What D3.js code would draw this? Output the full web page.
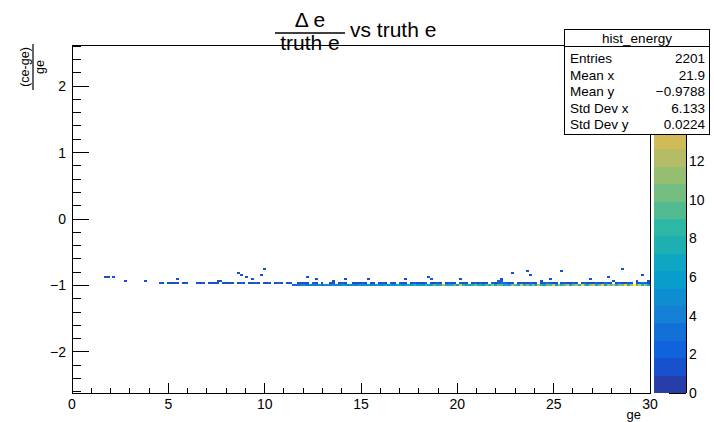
<!DOCTYPE html>
<html><head><meta charset="utf-8">
<script src="https://cdn.jsdelivr.net/npm/d3@7"></script>
<style>body{margin:0;background:#fff;} text{font-family:"Liberation Sans",Arial,Helvetica,sans-serif;}</style>
</head><body>
<svg id="c" width="714" height="422"></svg>
<script>
// ---- data ----
const xBinWidth = 0.15;
const yBinHeight = 0.03;
const xTickValues = [0,5,10,15,20,25,30];
const yTickValues = [-2,-1,0,1,2];
const zTickValues = [0,2,4,6,8,10,12];
const zMax = 18;
// main lower row (y = -0.99), starting at x = 11.4
const lowerRowY = -0.99, lowerRowX0 = 11.4;
const lowerRow = [2,3,3,4,
 4,3,5,4,4,5,3,4,5,4,
 5,4,4,6,5,4,5,5,4,6,
 5,5,6,4,5,6,5,5,6,5,
 6,5,7,6,5,6,7,6,8,6,
 7,6,8,7,6,9,7,8,13,7,
 8,7,9,6,14,8,7,7,8,10,
 7,8,6,9,8,11,7,10,9,7,
 8,6,11,9,7,14,8,10,7,11,
 7,12,8,6,10,9,14,7,11,8,
 9,13,7,10,12,8,16,9,7,11,
 13,8,10,15,7,12,9,13,8,11,
 10,16,8,12,18,9,14,8,11,7];
// upper row (y = -0.96), starting at x = 4.5
const upperRowY = -0.96, upperRowX0 = 4.5;
const upperRow = [1,1,0,1,1,1,1,0,1,1,
 0,0,0,1,1,1,0,1,1,1,
 1,0,1,1,1,1,0,1,2,1,
 0,1,1,2,1,0,1,1,1,0,
 1,2,1,0,1,1,0,0,1,1,
 1,1,0,2,1,0,1,0,0,1,
 1,0,1,2,1,0,0,1,1,1,
 2,1,0,1,1,0,1,2,1,0,
 1,1,0,2,1,1,0,1,2,1,
 1,1,2,0,1,1,2,1,0,1,
 2,1,1,0,2,1,1,0,1,2,
 1,2,1,1,0,2,1,2,3,3,
 2,1,1,0,1,2,1,1,2,1,
 1,0,1,2,3,2,1,1,0,1,
 2,1,1,2,1,0,1,2,1,1,
 1,2,1,1,3,2,1,0,1,2,
 1,1,2,1,0,1,2,3,2,1];
// scattered cells
const scatterX = [1.65,1.8,2.1,2.7,3.75,5.4,7.5,7.65,8.55,8.7,9.0,9.3,9.9,9.75,12.15,12.6,14.1,13.5,15.3,17.25,18.45,18.6,20.1,22.8,23.55,23.7,24.75,25.35,27.75,28.5,29.55,22.05,22.2,22.2,24.3,26.85,28.05,29.25,29.85];
const scatterY = [-0.87,-0.87,-0.87,-0.93,-0.93,-0.9,-0.93,-0.93,-0.81,-0.84,-0.87,-0.9,-0.75,-0.84,-0.87,-0.9,-0.9,-0.93,-0.9,-0.9,-0.87,-0.9,-0.9,-0.81,-0.78,-0.84,-0.9,-0.78,-0.87,-0.75,-0.84,-0.93,-0.93,-0.9,-0.93,-0.9,-0.93,-0.93,-0.93];
const scatterZ = [1,1,1,1,1,1,1,1,1,1,1,1,1,1,1,1,1,1,1,1,1,1,1,1,1,1,1,1,1,1,1,2,2,1,1,1,1,1,1];
const statsLabels = ["Entries","Mean x","Mean y","Std Dev x","Std Dev y"];
const statsValues = ["2201","21.9","\u22120.9788","6.133","0.0224"];

// ---- palette (ROOT kBird) ----
const stops=[0,.125,.25,.375,.5,.625,.75,.875,1];
const pr=[0.2082,0.0592,0.0780,0.0232,0.1802,0.5301,0.8186,0.9956,0.9764];
const pg=[0.1664,0.3599,0.5041,0.6419,0.7178,0.7492,0.7328,0.7862,0.9832];
const pb=[0.5293,0.8684,0.8385,0.7914,0.6425,0.4662,0.3499,0.1968,0.0539];
const ncol=255, ndivz=20;
const pal=[];
for(let i=0;i<ncol;i++){const t=i/(ncol-1);let k=0;while(k<stops.length-2&&t>stops[k+1])k++;
 const f=(t-stops[k])/(stops[k+1]-stops[k]);
 const c=a=>Math.round(255*(a[k]+(a[k+1]-a[k])*f));pal.push(`rgb(${c(pr)},${c(pg)},${c(pb)})`);}
const bandColor=b=>pal[Math.min(ncol-1,Math.floor((b+0.99)*ncol/ndivz))];
const zColor=z=>bandColor(Math.min(ndivz-1,Math.floor(0.01+z*ndivz/zMax)));

// ---- cells ----
const cells=[];
lowerRow.forEach((z,i)=>{if(z>0)cells.push({x:lowerRowX0+i*xBinWidth,y:lowerRowY,z});});
upperRow.forEach((z,i)=>{if(z>0)cells.push({x:upperRowX0+i*xBinWidth,y:upperRowY,z});});
scatterX.forEach((x,i)=>cells.push({x,y:scatterY[i],z:scatterZ[i]}));

const svg=d3.select("#c");
const L=72,R=650,T=45,B=393;
const x=d3.scaleLinear().domain([0,30]).range([L,R]);
const y=d3.scaleLinear().domain([-2.617,2.617]).range([B,T]);
const zs=d3.scaleLinear().domain([0,zMax]).range([B,T]);

svg.append("g").attr("shape-rendering","crispEdges").selectAll("rect").data(cells).join("rect")
 .attr("x",d=>x(d.x)).attr("width",d=>x(d.x+xBinWidth)-x(d.x))
 .attr("y",d=>y(d.y+yBinHeight/2)).attr("height",d=>y(d.y-yBinHeight/2)-y(d.y+yBinHeight/2))
 .attr("fill",d=>zColor(d.z));

// frame
svg.append("rect").attr("x",L).attr("y",T).attr("width",R-L).attr("height",B-T)
 .attr("fill","none").attr("stroke","#000").attr("stroke-width",1).attr("shape-rendering","crispEdges");

const tk=svg.append("g").attr("stroke","#000").attr("shape-rendering","crispEdges");
d3.range(0,31,1).forEach(v=>{const major=v%5===0;tk.append("line").attr("x1",x(v)).attr("x2",x(v)).attr("y1",B).attr("y2",B-(major?10.5:5.2));});
d3.range(-26,27,2).forEach(k=>{const v=k/10;const major=k%10===0;tk.append("line").attr("x1",L).attr("x2",L+(major?17:8.7)).attr("y1",y(v)).attr("y2",y(v));});

const fmt=v=>v<0?"\u2212"+Math.abs(v):String(v);
svg.append("g").selectAll("text").data(xTickValues).join("text")
 .attr("x",d=>x(d)).attr("y",409).attr("text-anchor","middle").attr("font-size",14).text(d=>fmt(d));
svg.append("g").selectAll("text").data(yTickValues).join("text")
 .attr("x",66).attr("y",d=>y(d)+5).attr("text-anchor","end").attr("font-size",14).text(d=>fmt(d));
svg.append("text").attr("x",641).attr("y",419).attr("text-anchor","end").attr("font-size",13).text("ge");

// y title: (ce-ge)/ge rotated
const yt=svg.append("g").attr("transform","translate(33,67) rotate(-90)");
yt.append("text").attr("x",0).attr("y",-4).attr("text-anchor","middle").attr("font-size",12.5).text("(ce-ge)");
yt.append("line").attr("x1",-23).attr("x2",23).attr("y1",0).attr("y2",0).attr("stroke","#000").attr("stroke-width",1.2);
yt.append("text").attr("x",0).attr("y",11).attr("text-anchor","middle").attr("font-size",12.5).text("ge");

// title
const tg=svg.append("g");
tg.append("text").attr("x",310).attr("y",27).attr("text-anchor","middle").attr("font-size",21).text("\u0394 e");
tg.append("line").attr("x1",275).attr("x2",345).attr("y1",33).attr("y2",33).attr("stroke","#000").attr("stroke-width",1.5);
tg.append("text").attr("x",310).attr("y",50).attr("text-anchor","middle").attr("font-size",21).text("truth e");
tg.append("text").attr("x",350).attr("y",37).attr("font-size",21).text("vs truth e");

// palette
const CL=654,CR=686;
const bands=d3.range(ndivz);
svg.append("g").attr("shape-rendering","crispEdges").selectAll("rect").data(bands).join("rect")
 .attr("x",CL).attr("width",CR-CL)
 .attr("y",b=>zs((b+1)*zMax/ndivz)).attr("height",b=>zs(b*zMax/ndivz)-zs((b+1)*zMax/ndivz))
 .attr("fill",b=>bandColor(b));
svg.append("line").attr("x1",CR).attr("x2",CR).attr("y1",T).attr("y2",B).attr("stroke","#000").attr("shape-rendering","crispEdges");
zTickValues.forEach(v=>tk.append("line").attr("x1",CR).attr("x2",CR-17).attr("y1",zs(v)).attr("y2",zs(v)));
svg.append("g").selectAll("text").data(zTickValues).join("text")
 .attr("x",689).attr("y",d=>zs(d)+5).attr("font-size",14).text(d=>d);

// stats box
const sb=svg.append("g");
sb.append("rect").attr("x",564.5).attr("y",29.5).attr("width",145).attr("height",105).attr("fill","#fff").attr("stroke","#000").attr("shape-rendering","crispEdges");
sb.append("line").attr("x1",564.5).attr("x2",709.5).attr("y1",46.5).attr("y2",46.5).attr("stroke","#000").attr("shape-rendering","crispEdges");
sb.append("text").attr("x",637).attr("y",43).attr("text-anchor","middle").attr("font-size",13.5).text("hist_energy");
statsLabels.forEach((l,i)=>{
 sb.append("text").attr("x",570).attr("y",63+i*16.5).attr("font-size",13.5).text(l);
 sb.append("text").attr("x",705).attr("y",63+i*16.5).attr("text-anchor","end").attr("font-size",13.5).text(statsValues[i]);
});
</script>
</body></html>
